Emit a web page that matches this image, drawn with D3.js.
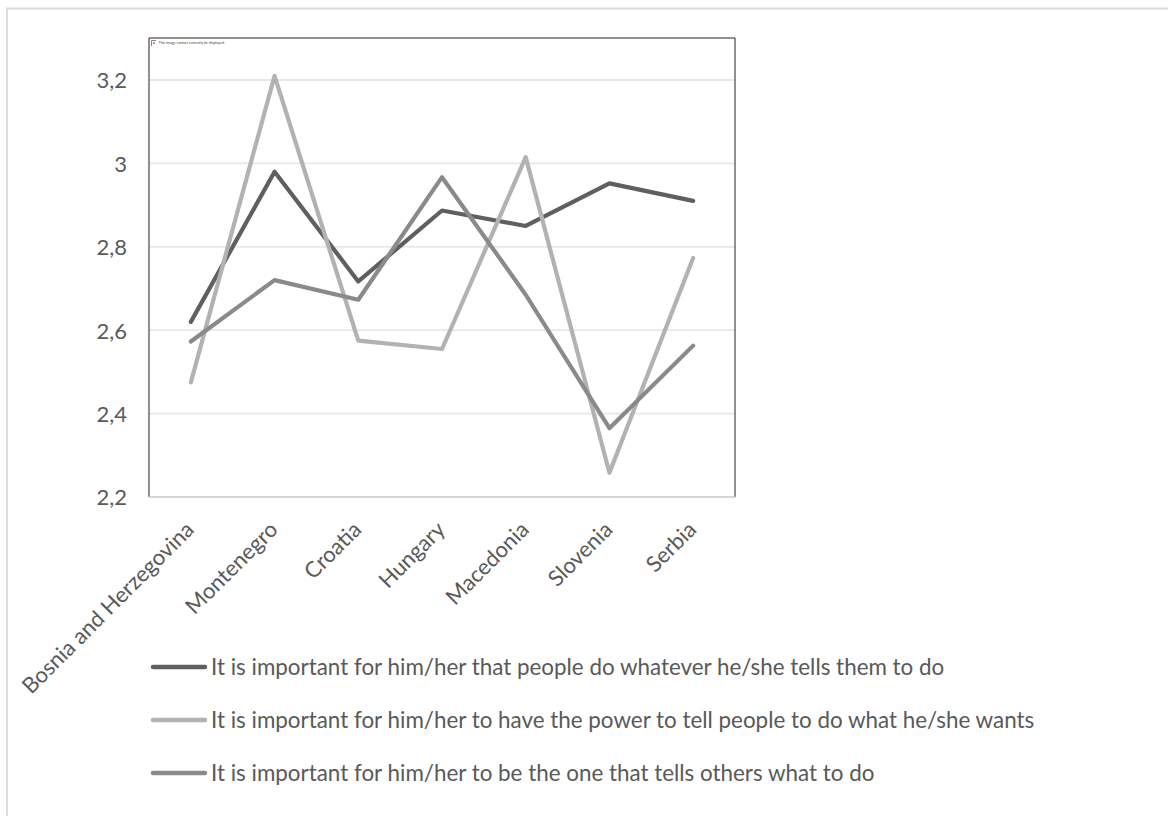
<!DOCTYPE html>
<html>
<head>
<meta charset="utf-8">
<script src="https://cdn.jsdelivr.net/npm/d3@7"></script>
<style>
html,body{margin:0;padding:0;background:#fff}
svg{display:block}
text{font-family:Lato,"Open Sans",sans-serif;fill:#595959}
</style>
</head>
<body>
<svg id="chart" width="1168" height="816"></svg>
<script>
const countries = ["Bosnia and Herzegovina","Montenegro","Croatia","Hungary","Macedonia","Slovenia","Serbia"];
const doWhatever = [2.62,2.98,2.717,2.887,2.85,2.952,2.91];
const havePower = [2.475,3.21,2.575,2.555,3.015,2.258,2.773];
const tellsOthers = [2.573,2.72,2.673,2.967,2.685,2.365,2.563];
const yTicks = [2.2,2.4,2.6,2.8,3,3.2];
const seriesNames = [
  "It is important for him/her that people do whatever he/she tells them to do",
  "It is important for him/her to have the power to tell people to do what he/she wants",
  "It is important for him/her to be the one that tells others what to do"
];
const seriesColors = ["#5f5f5f","#b2b2b2","#8a8a8a"];
const seriesValues = [doWhatever,havePower,tellsOthers];

const svg = d3.select("#chart");
const plot = {left:149,right:735,top:38,bottom:497};

// Outer frame of the chart area
svg.append("path")
  .attr("d","M7,816V8.5H1168")
  .attr("fill","none").attr("stroke","#dcdcdc").attr("stroke-width",2);

const x = d3.scalePoint().domain(countries).range([plot.left,plot.right]).padding(0.5);
const y = d3.scaleLinear().domain([2.2,3.2]).range([plot.bottom,80]);
const commaFormat = v => String(v).replace(".",",");

// Horizontal gridlines
svg.append("g").selectAll("line").data(yTicks.slice(1)).join("line")
  .attr("x1",plot.left).attr("x2",plot.right)
  .attr("y1",d=>y(d)).attr("y2",d=>y(d))
  .attr("stroke","#e8e8e8").attr("stroke-width",1.8);

// Value labels
const yAxis = d3.axisLeft(y).tickValues(yTicks).tickFormat(commaFormat).tickSize(0).tickPadding(22);
const yG = svg.append("g").attr("transform",`translate(${plot.left},0)`).call(yAxis);
yG.select(".domain").remove();
yG.selectAll("text").attr("font-size",22).attr("dy","0.36em").style("font-family","Lato,sans-serif").style("fill","#595959");

// Placeholder frame left by the embedded picture
svg.append("path")
  .attr("d",`M${plot.left},${plot.bottom}V${plot.top}H${plot.right}V${plot.bottom}`)
  .attr("fill","none").attr("stroke","#222").attr("stroke-width",1);
svg.append("path").attr("d","M156,40.5H151.5V46")
  .attr("fill","none").attr("stroke","#888").attr("stroke-width",1);
svg.append("rect").attr("x",153).attr("y",42).attr("width",2).attr("height",2).attr("fill","#e77");
svg.append("text").attr("x",158.5).attr("y",43.5).attr("font-size",3.7)
  .style("fill","#444").text("This image cannot currently be displayed.");

// Category axis baseline and rotated labels
const xAxis = d3.axisBottom(x).tickSize(0).tickPadding(0);
const xG = svg.append("g").attr("transform",`translate(0,${plot.bottom})`).call(xAxis);
xG.select(".domain").attr("stroke","#c8c8c8").attr("stroke-width",1.5)
  .attr("d",`M${plot.left},0H${plot.right}`);
xG.selectAll("text")
  .attr("font-size",22)
  .attr("text-anchor","end")
  .attr("dy",0).attr("y",0)
  .attr("transform",d=>`translate(4,34) rotate(-45)`)
  .style("font-family","Lato,sans-serif").style("fill","#595959");

// Series lines
const line = d3.line().x((d,i)=>x(countries[i])).y(d=>y(d));
svg.append("g").selectAll("path").data(seriesValues).join("path")
  .attr("d",line).attr("fill","none")
  .attr("stroke",(d,i)=>seriesColors[i]).attr("stroke-width",4.2)
  .attr("stroke-linecap","round").attr("stroke-linejoin","round");

// Legend rows
const legendY = d3.scalePoint().domain(seriesNames).range([667,773]);
const legend = svg.append("g").selectAll("g").data(seriesNames).join("g")
  .attr("transform",d=>`translate(0,${legendY(d)})`);
legend.append("line").attr("x1",153).attr("x2",205)
  .attr("stroke",(d,i)=>seriesColors[i]).attr("stroke-width",4.5).attr("stroke-linecap","round");
legend.append("text").attr("x",211).attr("dy","0.34em").attr("font-size",22.4).text(d=>d);
</script>
</body>
</html>
